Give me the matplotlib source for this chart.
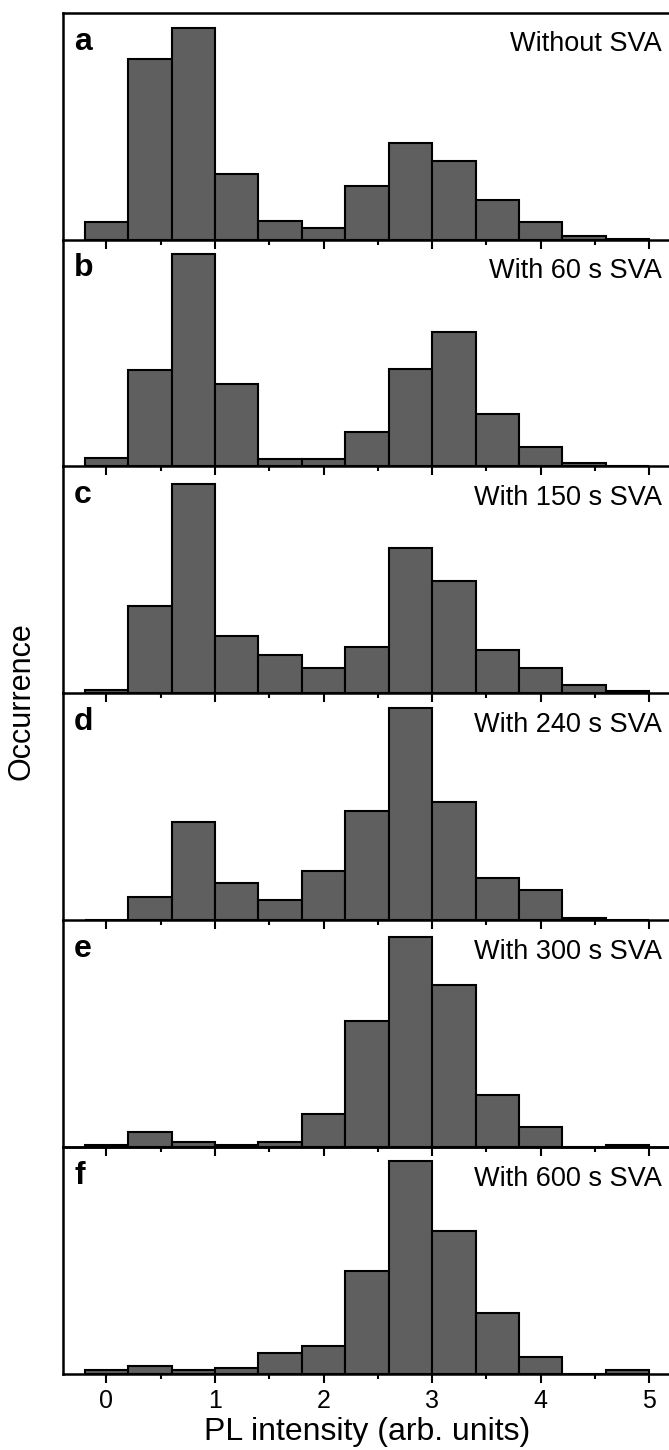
import numpy as np
import matplotlib.pyplot as plt

plt.rcParams['font.family'] = ['Liberation Sans', 'DejaVu Sans']

# bin centres of the PL intensity histogram (bin width 0.4)
bin_centers = [0.0, 0.4, 0.8, 1.2, 1.6, 2.0, 2.4, 2.8, 3.2, 3.6, 4.0, 4.4, 4.8]

panel_letters = ['a', 'b', 'c', 'd', 'e', 'f']
panel_titles = ['Without SVA', 'With 60 s SVA', 'With 150 s SVA',
                'With 240 s SVA', 'With 300 s SVA', 'With 600 s SVA']

# occurrence (arbitrary units)
counts_a = [53, 538, 628, 194, 56, 34, 158, 288, 233, 119, 53, 10, 2]
counts_b = [24, 286, 631, 244, 22, 22, 102, 291, 399, 157, 59, 11, 0]
counts_c = [9, 259, 624, 170, 115, 75, 139, 433, 335, 129, 74, 26, 8]
counts_d = [0, 70, 292, 110, 60, 145, 326, 630, 351, 125, 90, 6, 0]
counts_e = [6, 45, 14, 6, 14, 100, 374, 624, 481, 156, 60, 0, 6]
counts_f = [13, 24, 12, 18, 62, 84, 306, 634, 424, 181, 52, 0, 12]
all_counts = [counts_a, counts_b, counts_c, counts_d, counts_e, counts_f]

major_ticks = [0, 1, 2, 3, 4, 5]
minor_ticks = [0.5, 1.5, 2.5, 3.5, 4.5]

W, H = 669, 1450
fig = plt.figure(figsize=(W / 100, H / 100), dpi=100)

left = 63 / W
width = 608 / W
top = 1 - 12.7 / H
bottom = 1 - 1374 / H
h = (top - bottom) / 6

for i in range(6):
    ax = fig.add_axes([left, top - (i + 1) * h, width, h])
    ax.patch.set_visible(False)
    ax.bar(bin_centers, all_counts[i], width=0.4, color='#5f5f5f',
           edgecolor='black', linewidth=1.5)
    ax.set_xlim(-0.4, 5.2)
    ax.set_ylim(0, 675)
    ax.set_yticks([])
    ax.set_xticks(major_ticks)
    ax.set_xticks(minor_ticks, minor=True)
    ax.tick_params(axis='x', which='major', direction='out', length=6.5,
                   width=1.5, labelsize=18, pad=4)
    ax.tick_params(axis='x', which='minor', direction='out', length=3.5,
                   width=1.5)
    for s in ax.spines.values():
        s.set_linewidth(1.8)
    if i < 5:
        ax.tick_params(axis='x', labelbottom=False)
        ax.spines['top'].set_visible(i == 0)
    else:
        ax.set_xlabel('PL intensity (arb. units)', fontsize=23, labelpad=3)
    ax.annotate(panel_letters[i], xy=(0, 1), xycoords='axes fraction',
                xytext=(8, -10), textcoords='offset points',
                ha='left', va='top', fontsize=23, fontweight='bold')
    ax.annotate(panel_titles[i], xy=(1, 1), xycoords='axes fraction',
                xytext=(-6.5, -13.5), textcoords='offset points',
                ha='right', va='top', fontsize=19.5)

fig.text(22 / W, 1 - 701 / H, 'Occurrence', rotation=90,
         ha='center', va='center', fontsize=22)

fig.savefig('out.png', dpi=100)
